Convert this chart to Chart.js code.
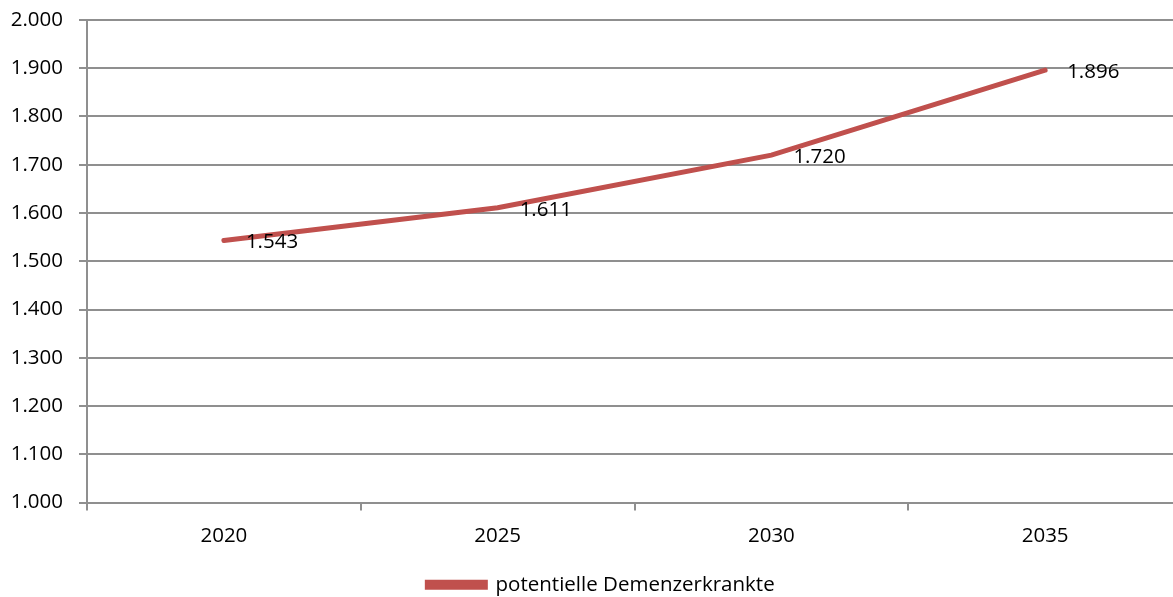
<!DOCTYPE html>
<html lang="de">
<head>
  <meta charset="UTF-8" />
  <title>Demenzerkrankte</title>
  <style>
    html, body {
      margin: 0;
      padding: 0;
      background: #fff;
      overflow: hidden;
    }
    .chart_box {
      width: 1182px;
      height: 597px;
    }
  </style>
  <script src="https://cdn.jsdelivr.net/npm/chart.js"></script>
</head>
<body>
  <div class="chart_box">
    <canvas id="mychart"></canvas>
  </div>
  <script>
    const years = ['2020', '2025', '2030', '2035'];
    const patients = [1543, 1611, 1720, 1896];
    const yMin = 1000;
    const yMax = 2000;
    const yStep = 100;

    const fmt = v => v.toLocaleString('de-DE', { minimumFractionDigits: 0 });
    const textFont = '"Open Sans", sans-serif';
    const fontSize = 20.5;

    // draws the value next to each point
    const valueLabels = {
      id: 'valueLabels',
      afterDatasetsDraw(chart) {
        const ctx = chart.ctx;
        const meta = chart.getDatasetMeta(0);
        ctx.save();
        ctx.font = fontSize + 'px ' + textFont;
        ctx.fillStyle = '#000';
        ctx.textAlign = 'left';
        ctx.textBaseline = 'middle';
        meta.data.forEach((pt, i) => {
          ctx.fillText(fmt(patients[i]), pt.x + 22, pt.y + 2);
        });
        ctx.restore();
      }
    };

    // nudge legend a bit lower / right like the original
    const legendShift = {
      id: 'legendShift',
      afterLayout(chart) {
        const lg = chart.legend;
        if (!lg) return;
        lg.top += 8;
        lg.bottom += 8;
        lg.left += 10;
        lg.right += 10;
      }
    };

    var chart = new Chart('mychart', {
      type: 'line',
      data: {
        labels: years,
        datasets: [{
          label: 'potentielle Demenzerkrankte',
          data: patients,
          borderColor: '#C0504D',
          backgroundColor: '#C0504D',
          borderWidth: 5,
          borderCapStyle: 'round',
          pointRadius: 0,
          tension: 0
        }]
      },
      options: {
        responsive: true,
        maintainAspectRatio: false,
        animation: false,
        layout: { padding: { top: 20, right: 0, left: 0, bottom: 0 } },
        plugins: {
          tooltip: { enabled: false },
          legend: {
            position: 'bottom',
            labels: {
              color: '#000',
              font: { family: textFont, size: fontSize },
              boxWidth: 58,
              boxHeight: 5,
              padding: 0
            }
          }
        },
        scales: {
          x: {
            offset: true,
            afterFit(scale) { scale.height = 64; },
            grid: {
              offset: true,
              drawOnChartArea: false,
              color: '#8f8f8f',
              lineWidth: 2,
              tickLength: 8
            },
            border: { color: '#8f8f8f', width: 2 },
            ticks: {
              color: '#000',
              padding: 13,
              font: { family: textFont, size: fontSize }
            }
          },
          y: {
            min: yMin,
            max: yMax,
            afterFit(scale) {
              scale.width = 87;
              scale.paddingTop = 0;
              scale.paddingBottom = 0;
            },
            grid: {
              color: '#8f8f8f',
              lineWidth: 2,
              tickLength: 8
            },
            border: { color: '#8f8f8f', width: 2 },
            ticks: {
              stepSize: yStep,
              color: '#000',
              padding: 16,
              font: { family: textFont, size: fontSize },
              callback: v => fmt(v)
            }
          }
        }
      },
      plugins: [valueLabels, legendShift]
    });
  </script>
</body>
</html>
